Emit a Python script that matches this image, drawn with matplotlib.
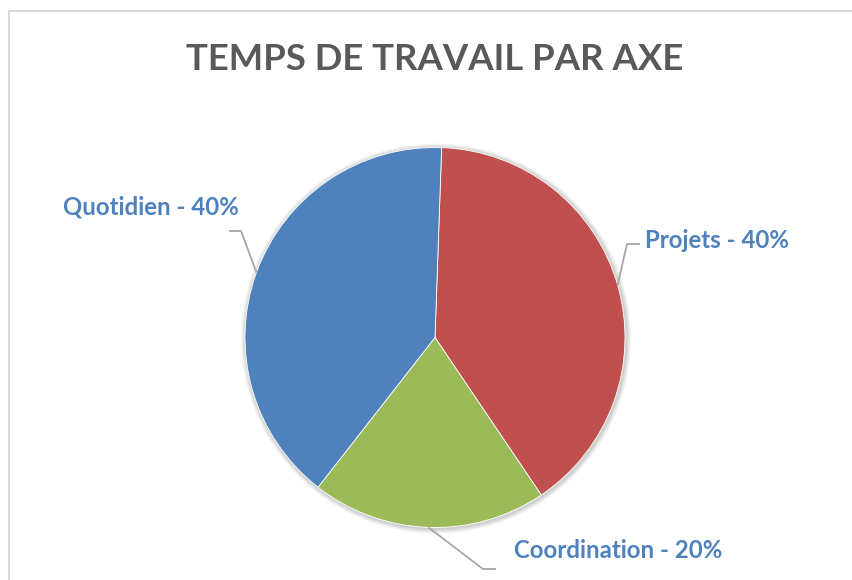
import matplotlib
matplotlib.use("Agg")
import matplotlib.pyplot as plt
import numpy as np
from matplotlib.patches import Rectangle, Circle

categories = ["Projets", "Coordination", "Quotidien"]
values = [40, 20, 40]
colors = ["#C0504D", "#9BBB59", "#4F81BD"]
title = "TEMPS DE TRAVAIL PAR AXE"

W, H = 852, 580
fig = plt.figure(figsize=(W / 100, H / 100), dpi=100)
ax = fig.add_axes([0, 0, 1, 1])
ax.set_xlim(0, W)
ax.set_ylim(0, H)
ax.set_aspect("equal")
ax.axis("off")

# chart area border
ax.add_patch(Rectangle((8.5, -10), W + 20, H - 10.5 + 10, fill=False,
                       edgecolor="#D9D9D9", linewidth=1.5))

cx, cy, r = 435, H - 337.5, 190
start = 88

# soft shadow
for i in range(8):
    ax.add_patch(Circle((cx + 1, cy - 1), r + 1 + i * 0.6, color="#000000",
                        alpha=0.025, linewidth=0, zorder=1))

wedges, _ = ax.pie(values, colors=colors, startangle=start, counterclock=False,
                   center=(cx, cy), radius=r, frame=True,
                   wedgeprops=dict(linewidth=0.6, edgecolor="white"))
for w in wedges:
    w.set_zorder(2)
ax.set_xlim(0, W)
ax.set_ylim(0, H)
ax.axis("off")

ax.text(435, H - 60, title, ha="center", va="center", fontsize=26.3,
        fontweight="bold", color="#595959", family="Lato")

layout = {
    "Projets": dict(elbow=(627, 244), end=(640, 244), text=(645, 240), ha="left"),
    "Coordination": dict(elbow=(483, 569), end=(496, 569), text=(514, 551), ha="left"),
    "Quotidien": dict(elbow=(241, 231), end=(229, 231), text=(239, 207), ha="right"),
}

total = sum(values)
for w, cat, v in zip(wedges, categories, values):
    mid = np.deg2rad((w.theta1 + w.theta2) / 2)
    px, py = cx + r * np.cos(mid), cy + r * np.sin(mid)
    L = layout[cat]
    ex, ey = L["elbow"][0], H - L["elbow"][1]
    hx, hy = L["end"][0], H - L["end"][1]
    ax.plot([px, ex, hx], [py, ey, hy], color="#A6A6A6", linewidth=1.3, zorder=3,
            solid_capstyle="butt")
    ax.text(L["text"][0], H - L["text"][1], f"{cat} - {round(100 * v / total)}%",
            ha=L["ha"], va="center", fontsize=17.3, fontweight="bold",
            color="#4F81BD", family="Lato")

fig.savefig("out.png", dpi=100, facecolor="white")
